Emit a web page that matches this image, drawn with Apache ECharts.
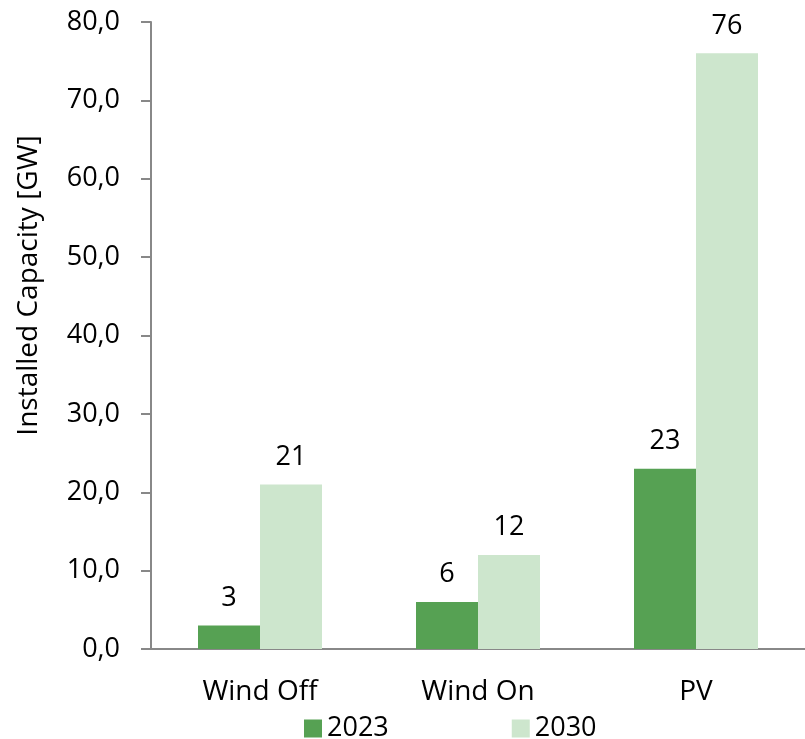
<!DOCTYPE html>
<html><head><meta charset="utf-8">
<script src="https://cdn.jsdelivr.net/npm/echarts@6/dist/echarts.min.js"></script>
<style>html,body{margin:0;padding:0;background:#fff}#c{width:805px;height:739px}</style>
</head><body><div id="c"></div>
<script>
const categories = ['Wind Off', 'Wind On', 'PV'];
const seriesNames = ['2023', '2030'];
const values2023 = [3, 6, 23];
const values2030 = [21, 12, 76];
const yTicks = [0, 10, 20, 30, 40, 50, 60, 70, 80];

const FONT = '"Open Sans", "Noto Sans", sans-serif';
const chart = echarts.init(document.getElementById('c'));
const labelStyle = {show: true, position: 'top', distance: 14, fontSize: 27, fontFamily: FONT, color: '#000'};
chart.setOption({
  animation: false,
  textStyle: {fontFamily: FONT},
  grid: {left: 151, right: 0, top: 22, bottom: 90, containLabel: false},
  legend: {
    data: seriesNames, left: 299, top: 710, icon: 'rect', itemWidth: 18, itemHeight: 18, itemGap: 123,
    textStyle: {fontSize: 27, fontFamily: FONT, color: '#000'}
  },
  xAxis: {
    type: 'category', data: categories,
    axisLine: {lineStyle: {color: '#888', width: 2}},
    axisTick: {show: false},
    axisLabel: {fontSize: 28, fontFamily: FONT, color: '#000', margin: 29}
  },
  yAxis: {
    type: 'value', min: yTicks[0], max: yTicks[yTicks.length - 1], interval: 10,
    name: 'Installed Capacity [GW]', nameLocation: 'middle', nameGap: 108,
    nameTextStyle: {fontSize: 28, fontFamily: FONT, color: '#000', padding: [0, 0, 0, 100]},
    axisLine: {show: true, lineStyle: {color: '#888', width: 2}},
    axisTick: {show: true, length: 10, lineStyle: {color: '#888', width: 2}},
    splitLine: {show: false},
    axisLabel: {fontSize: 27, fontFamily: FONT, color: '#000', margin: 31,
      formatter: v => v.toFixed(1).replace('.', ',')}
  },
  series: [
    {name: seriesNames[0], type: 'bar', data: values2023, barWidth: 62, barGap: '0%',
     itemStyle: {color: '#56a153'}, label: labelStyle},
    {name: seriesNames[1], type: 'bar', data: values2030, barWidth: 62, barGap: '0%',
     itemStyle: {color: '#cde6cd'}, label: labelStyle}
  ]
});
</script></body></html>
